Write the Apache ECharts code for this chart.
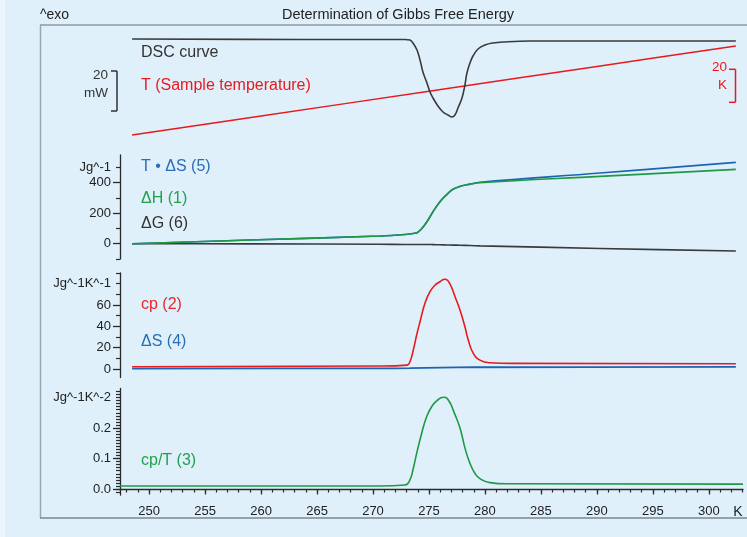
<!DOCTYPE html>
<html><head><meta charset="utf-8">
<script src="https://cdn.jsdelivr.net/npm/echarts@6/dist/echarts.min.js"></script>
<style>
html,body{margin:0;padding:0;background:#eaf5fc;}
#c{position:absolute;left:0;top:0;width:747px;height:537px;background:linear-gradient(to right,#eaf5fc 5px,#dff0fa 5px);}
</style>
</head><body><div id="c"></div><script>
// ---------- DATA ----------
const xTickLabels = [250,255,260,265,270,275,280,285,290,295,300];

const dscTemp = [248.48,263.5,272.86,273.30,273.57,273.93,274.20,274.46,274.82,275.09,275.36,275.80,276.25,276.70,277.05,277.32,277.59,277.95,278.21,278.39,278.66,278.93,279.38,280.00,280.71,281.61,284.02,302.41];
const dscHeatFlow = [0.5,0.25,0.25,0,-1.5,-5,-10,-16,-21.5,-26,-29,-33,-36,-37.5,-38.5,-37.5,-34,-29,-22.5,-16.5,-11.5,-8,-4.5,-2.5,-1.5,-1,-0.5,-0.5];

const sampleTempX = [248.48,260,275,290,302.41];
const sampleTemp  = [248.48,260,275,290,302.41];

const enthalpyTemp = [248.48,259.0,270.63,272.86,273.57,273.93,274.38,274.82,275.36,275.98,276.61,277.14,277.77,278.66,279.55,290.27,302.41];
const deltaH  = [0,24,50,60,67,72,101,144,209,275,323,356,374,388,399,440,486];
const tDeltaS = [0,24,50,60,67,72,101,144,209,275,323,356,375,390,402,462,532];
const deltaG  = [0,-1,-4,-5,-5,-5,-5,-5,-6,-7,-8,-9,-10,-12,-14,-31,-48];
const enthalpyTickLabels = [0,200,400];

const cpTemp = [248.48,270.63,273.04,273.30,273.60,273.90,274.20,274.64,275.09,275.54,275.98,276.43,276.65,276.88,277.10,277.32,277.77,278.21,278.51,278.96,279.55,280.45,282.53,302.41];
const cp = [2.2,2.8,3.7,6.9,17.8,31.9,44.3,61.6,72.5,78.7,81.8,84.1,83.2,79.5,74.5,68.0,55.3,39.6,27.2,14.7,8.4,5.9,5.3,5.0];
const entropyTemp = [248.48,270.63,273.3,276.0,279.0,302.41];
const deltaS = [0.5,0.7,0.8,1.3,1.7,2.0];
const cpTickLabels = [0,20,40,60];

const cpOverTTemp = [247.41,270.63,272.86,273.30,273.60,273.90,274.35,274.79,275.24,275.69,276.28,276.50,276.72,276.95,277.17,277.77,278.21,278.66,279.11,279.55,280.45,281.94,303.05];
const cpOverT = [0.010,0.010,0.013,0.030,0.068,0.117,0.183,0.237,0.270,0.289,0.301,0.300,0.292,0.278,0.258,0.200,0.135,0.084,0.051,0.034,0.021,0.017,0.016];
const cpOverTTickLabels = [0,0.1,0.2];

// ---------- CHART ----------
const FONT = 'Liberation Sans, Arial, Helvetica, sans-serif';
const AXC = '#2a2a2a';
const zip = (a,b) => a.map((v,i)=>[v,b[i]]);
const range = (a,b,s) => { const r=[]; for(let i=Math.round(a/s);i<=Math.round(b/s);i++) r.push(+(i*s).toFixed(4)); return r; };

const xMin = 247.4, xMax = 303.05;
const grids = [
  {left:120, right:4, top:30, height:110},
  {left:120, right:4, top:155, height:104},
  {left:120, right:4, top:273, height:104.6},
  {left:120, right:4, top:388.4, height:106.7}
];
function hiddenX(g){ return {type:'value', gridIndex:g, min:xMin, max:xMax, show:false}; }
function yMajor(g,min,max,tickVals,labelVals,fmt){
  return {type:'value', gridIndex:g, min:min, max:max, position:'left',
    axisLine:{show:true, lineStyle:{color:AXC, width:1.3}},
    axisTick:{show:true, inside:false, length:7, customValues:tickVals, lineStyle:{color:AXC, width:1.3}},
    axisLabel:{show:true, customValues:labelVals, formatter:fmt, margin:9, color:'#222', fontSize:13, fontFamily:FONT},
    splitLine:{show:false}};
}
function yMinor(g,min,max,tickVals){
  return {type:'value', gridIndex:g, min:min, max:max, position:'left',
    axisLine:{show:false},
    axisTick:{show:true, inside:false, length:4, customValues:tickVals, lineStyle:{color:AXC, width:1.2}},
    axisLabel:{show:false}, splitLine:{show:false}};
}
function line(xi,yi,xs,ys,color,w,z,sm){
  return {type:'line', xAxisIndex:xi, yAxisIndex:yi, data:zip(xs,ys), symbol:'none', showSymbol:false,
    smooth:sm||0.3, silent:true, z:z||2, lineStyle:{color:color, width:w||1.6}};
}

const chart = echarts.init(document.getElementById('c'), null, {renderer:'canvas'});
const option = {
  animation:false,
  backgroundColor:'transparent',
  grid: grids,
  xAxis: [
    hiddenX(0), hiddenX(1), hiddenX(2),
    {type:'value', gridIndex:3, min:xMin, max:xMax, position:'bottom',
      axisLine:{show:true, lineStyle:{color:AXC, width:1.3}},
      axisTick:{show:true, length:5.5, customValues:xTickLabels, lineStyle:{color:AXC, width:1.3}},
      axisLabel:{show:true, customValues:xTickLabels, margin:10, color:'#222', fontSize:13, fontFamily:FONT},
      splitLine:{show:false}},
    {type:'value', gridIndex:3, min:xMin, max:xMax, position:'bottom',
      axisLine:{show:false},
      axisTick:{show:true, length:3.5, customValues:range(248,303,1), lineStyle:{color:AXC, width:1.2}},
      axisLabel:{show:false}, splitLine:{show:false}}
  ],
  yAxis: [
    {type:'value', gridIndex:0, min:-50, max:5, show:false},
    {type:'value', gridIndex:0, min:245.47, max:312.1, show:false},
    yMajor(1,-100,580,enthalpyTickLabels,enthalpyTickLabels.concat([500]), v => v===500 ? 'Jg^-1' : String(v)),
    yMinor(1,-100,580,[-100,100,300,500]),
    yMajor(2,-8,90,cpTickLabels,cpTickLabels.concat([80]), v => v===80 ? 'Jg^-1K^-1' : String(v)),
    yMinor(2,-8,90,[10,30,50,70,80,90]),
    yMajor(3,-0.02,0.33,cpOverTTickLabels,cpOverTTickLabels.concat([0.3]), v => v>0.25 ? 'Jg^-1K^-2' : v.toFixed(1)),
    yMinor(3,-0.02,0.33,range(-0.01,0.32,0.01))
  ],
  series: [
    line(0,1,sampleTempX,sampleTemp,'#e8191f',1.5,2),
    line(0,0,dscTemp,dscHeatFlow,'#3a3a3a',1.6,3,0.4),
    line(1,2,enthalpyTemp,deltaG,'#3a3a3a',1.6,2),
    line(1,2,enthalpyTemp,tDeltaS,'#1d64b5',1.6,3,0.4),
    line(1,2,enthalpyTemp,deltaH,'#1e9a44',1.6,4,0.4),
    line(2,4,entropyTemp,deltaS,'#1d64b5',1.8,2),
    line(2,4,cpTemp,cp,'#e8191f',1.6,3,0.5),
    line(3,6,cpOverTTemp,cpOverT,'#1e9a44',1.6,3,0.5)
  ]
};
chart.setOption(option);

function txt(id,x,y,s,color,size,align){
  return {type:'text', id:id, x:x, y:y, z:10, silent:true,
    style:{text:s, fill:color, font:(size||16)+'px '+FONT, textAlign:align||'left', textVerticalAlign:'middle'}};
}
function ln(id,x1,y1,x2,y2,color,w){
  return {type:'line', id:id, z:9, silent:true, shape:{x1:x1,y1:y1,x2:x2,y2:y2}, style:{stroke:color, lineWidth:w||1.3}};
}
// scale brackets derived from the axes
const mwTop = chart.convertToPixel({yAxisIndex:0}, -15.5);
const mwBot = chart.convertToPixel({yAxisIndex:0}, -35.5);
const kTop = chart.convertToPixel({yAxisIndex:1}, 288.3);
const kBot = chart.convertToPixel({yAxisIndex:1}, 268.3);
const RED = '#e8191f';
const graphics = [
  ln('f1',40,25,747,25,'#8e9aa2',1.5),
  ln('f2',40.5,25,40.5,518,'#9aa6ad',1.5),
  ln('f3',40,518,747,518,'#7d878d',1.5),
  txt('t0',398,15,'Determination of Gibbs Free Energy','#222',14.5,'center'),
  txt('t1',40,15,'^exo','#222',14,'left'),
  txt('l1',141,53,'DSC curve','#333',16),
  txt('l2',141,86,'T (Sample temperature)',RED,16),
  txt('l3',141,167,'T \u2022 \u0394S (5)','#2a6db8',16),
  txt('l4',141,199,'\u0394H (1)','#23a04c',16),
  txt('l5',141,224,'\u0394G (6)','#333',16),
  txt('l6',141,305,'cp (2)','#e8262b',16),
  txt('l7',141,342,'\u0394S (4)','#2a6db8',16),
  txt('l8',141,461,'cp/T (3)','#23a04c',16),
  txt('k',738,512,'K','#222',14,'center'),
  // mW bracket
  ln('b1',117,mwTop,117,mwBot,'#333',1.5),
  ln('b2',111,mwTop,117,mwTop,'#333',1.5),
  ln('b3',111,mwBot,117,mwBot,'#333',1.5),
  txt('b4',108,mwTop+4,'20','#333',13.5,'right'),
  txt('b5',108,mwTop+22,'mW','#333',13.5,'right'),
  // K bracket
  ln('k1',735.5,kTop,735.5,kBot,RED,1.5),
  ln('k2',729,kTop,735.5,kTop,RED,1.5),
  ln('k3',729,kBot,735.5,kBot,RED,1.5),
  txt('k4',727,kTop-2,'20',RED,13.5,'right'),
  txt('k5',727,kTop+16,'K',RED,13.5,'right')
];
chart.setOption({graphic: graphics});
</script></body></html>
